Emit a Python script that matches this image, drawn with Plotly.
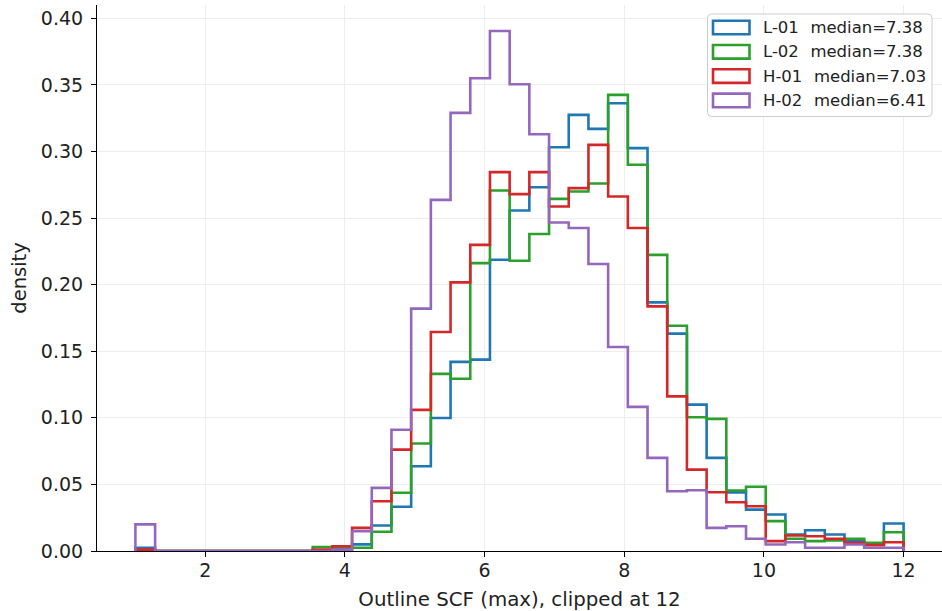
import numpy as np
import plotly.graph_objects as go

# Histogram binning: 39 equal-width bins between 1 and 12
bin_lo, bin_hi, n_bins = 1.0, 12.0, 39
edges = np.linspace(bin_lo, bin_hi, n_bins + 1)

# Per-bin densities for each run
l01 = [0.0024, 0, 0, 0, 0, 0, 0, 0, 0, 0.0, 0.0015, 0.0050, 0.0191, 0.0332,
       0.0636, 0.0999, 0.1420, 0.1437, 0.2187, 0.2557, 0.2732, 0.3032, 0.3275,
       0.3170, 0.3362, 0.3025, 0.1867, 0.1632, 0.1099, 0.0699, 0.0440, 0.0311,
       0.0274, 0.0124, 0.0156, 0.0124, 0.0074, 0.0050, 0.0206]
l02 = [0.0, 0, 0, 0, 0, 0, 0, 0, 0, 0.0030, 0.0030, 0.0024, 0.0144, 0.0437,
       0.0807, 0.1330, 0.1294, 0.2162, 0.2707, 0.2180, 0.2380, 0.2644, 0.2700,
       0.2760, 0.3425, 0.2900, 0.2224, 0.1692, 0.1004, 0.0992, 0.0454, 0.0482,
       0.0224, 0.0092, 0.0074, 0.0079, 0.0092, 0.0061, 0.0141]
h01 = [0.0010, 0, 0, 0, 0, 0, 0, 0, 0, 0.0010, 0.0036, 0.0174, 0.0374, 0.0761,
       0.1060, 0.1644, 0.2017, 0.2299, 0.2845, 0.2680, 0.2845, 0.2587, 0.2725,
       0.3050, 0.2662, 0.2425, 0.1837, 0.1161, 0.0611, 0.0441, 0.0366, 0.0336,
       0.0074, 0.0116, 0.0111, 0.0092, 0.0061, 0.0044, 0.0066]
h02 = [0.0200, 0, 0, 0, 0, 0, 0, 0, 0, 0.0, 0.0010, 0.0149, 0.0474, 0.0911,
       0.1820, 0.2637, 0.3290, 0.3550, 0.3905, 0.3505, 0.3130, 0.2467, 0.2425,
       0.2155, 0.1532, 0.1082, 0.0699, 0.0449, 0.0456, 0.0174, 0.0186, 0.0092,
       0.0049, 0.0066, 0.0024, 0.0024, 0.0049, 0.0024, 0.0024]

run_names = ["L-01", "L-02", "H-01", "H-02"]
medians = [7.38, 7.38, 7.03, 6.41]
colors = ["#1f77b4", "#2ca02c", "#d62728", "#9467bd"]
series = [l01, l02, h01, h02]

x_ticks = [2, 4, 6, 8, 10, 12]
y_ticks = [0.00, 0.05, 0.10, 0.15, 0.20, 0.25, 0.30, 0.35, 0.40]

FONT = "DejaVu Sans"
TEXT = "#222222"
W, H = 942, 611
ML, MR, MT, MB = 97, 0, 5, 60
PW, PH = W - ML - MR, H - MT - MB

fig = go.Figure()

# Step outlines: rise from the baseline at the first edge, fall back at the last
for name, vals, col in zip(run_names, series, colors):
    xs = np.concatenate([[edges[0]], edges])
    ys = np.concatenate([[0.0], vals, [0.0]])
    fig.add_trace(go.Scatter(
        x=xs, y=ys, mode="lines", line=dict(color=col, width=2.6, shape="hv"),
        name=name, showlegend=False, hoverinfo="skip"))


def px_x(p):
    return (p - ML) / PW


def px_y(p):
    return (H - MB - p) / PH


# Legend box (rounded frame) with outlined patches
shapes = []
annotations = []
bx0, bx1, by0, by1 = 707.5, 932, 14, 116.5
r = 4
path = (
    f"M {px_x(bx0 + r)},{px_y(by0)} L {px_x(bx1 - r)},{px_y(by0)} "
    f"Q {px_x(bx1)},{px_y(by0)} {px_x(bx1)},{px_y(by0 + r)} "
    f"L {px_x(bx1)},{px_y(by1 - r)} "
    f"Q {px_x(bx1)},{px_y(by1)} {px_x(bx1 - r)},{px_y(by1)} "
    f"L {px_x(bx0 + r)},{px_y(by1)} "
    f"Q {px_x(bx0)},{px_y(by1)} {px_x(bx0)},{px_y(by1 - r)} "
    f"L {px_x(bx0)},{px_y(by0 + r)} "
    f"Q {px_x(bx0)},{px_y(by0)} {px_x(bx0 + r)},{px_y(by0)} Z"
)
shapes.append(dict(type="path", path=path, xref="paper", yref="paper",
                   line=dict(color="#cccccc", width=1),
                   fillcolor="rgba(255,255,255,0.8)", layer="above"))

row_y = [27.5, 51.8, 76.1, 100.4]
for name, med, col, yc in zip(run_names, medians, colors, row_y):
    shapes.append(dict(type="rect", xref="paper", yref="paper",
                       x0=px_x(713), x1=px_x(749.5),
                       y0=px_y(yc - 6.8), y1=px_y(yc + 6.8),
                       line=dict(color=col, width=2.6),
                       fillcolor="rgba(0,0,0,0)", layer="above"))
    annotations.append(dict(
        x=px_x(761), y=px_y(yc), xref="paper", yref="paper",
        text=f"{name}\u2002\u2009median={med:.2f}", showarrow=False,
        xanchor="left", yanchor="middle",
        font=dict(family=FONT, size=16.5, color=TEXT)))

fig.update_layout(
    width=W, height=H,
    margin=dict(l=ML, r=MR, t=MT, b=MB, pad=0),
    paper_bgcolor="white", plot_bgcolor="white",
    showlegend=False,
    shapes=shapes, annotations=annotations,
    font=dict(family=FONT, size=19, color=TEXT),
    xaxis=dict(
        range=[0.45, 12.55], tickvals=x_ticks, ticktext=[str(t) for t in x_ticks],
        showgrid=True, gridcolor="#ededed", gridwidth=1, zeroline=False,
        showline=True, linecolor="#000000", linewidth=1.1,
        ticks="outside", ticklen=5, tickwidth=1.1, tickcolor="#000000",
        tickfont=dict(family=FONT, size=19, color=TEXT),
        ticklabelstandoff=-3,
        title=dict(text="Outline SCF (max), clipped at 12", standoff=12,
                   font=dict(family=FONT, size=19.8, color=TEXT)),
    ),
    yaxis=dict(
        range=[0, 0.41], tickvals=y_ticks, ticktext=[f"{t:.2f}" for t in y_ticks],
        showgrid=True, gridcolor="#ededed", gridwidth=1, zeroline=False,
        showline=True, linecolor="#000000", linewidth=1.1,
        ticks="outside", ticklen=5, tickwidth=1.1, tickcolor="#000000",
        tickfont=dict(family=FONT, size=19, color=TEXT),
        ticklabelstandoff=4,
        title=dict(text="density", standoff=9,
                   font=dict(family=FONT, size=19.5, color=TEXT)),
    ),
)

fig.write_html("out.html")
